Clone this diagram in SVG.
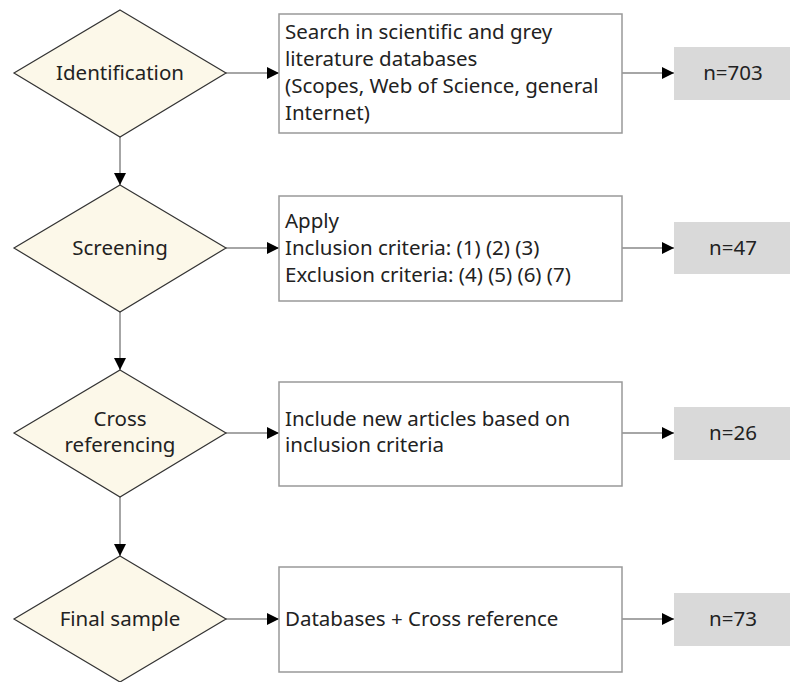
<svg xmlns="http://www.w3.org/2000/svg" width="790" height="682" viewBox="0 0 790 682">
<style>
.d{fill:#fcf8e9;stroke:#333;stroke-width:1.2}
.b{fill:#fff;stroke:#999;stroke-width:1.5}
.n{fill:#d9d9d9;stroke:none}
.t{font-family:"Noto Sans","Open Sans",sans-serif;font-size:20.5px;fill:#222}
.c{text-anchor:middle}
.e{stroke:#888;stroke-width:1.5;fill:none}
</style>
<defs>
<marker id="ah" viewBox="0 0 12 12" refX="12" refY="6" markerWidth="12" markerHeight="12" markerUnits="userSpaceOnUse" orient="auto">
<path d="M0,0 L12,6 L0,12 Z" fill="#000"/>
</marker>
</defs>
<g id="connectors">
<line class="e" x1="120" y1="137" x2="120" y2="185" marker-end="url(#ah)"/>
<line class="e" x1="120" y1="312" x2="120" y2="370" marker-end="url(#ah)"/>
<line class="e" x1="120" y1="497" x2="120" y2="556" marker-end="url(#ah)"/>
<line class="e" x1="226" y1="73" x2="279" y2="73" marker-end="url(#ah)"/>
<line class="e" x1="226" y1="248" x2="279" y2="248" marker-end="url(#ah)"/>
<line class="e" x1="226" y1="433" x2="279" y2="433" marker-end="url(#ah)"/>
<line class="e" x1="226" y1="619" x2="279" y2="619" marker-end="url(#ah)"/>
<line class="e" x1="622" y1="73" x2="674" y2="73" marker-end="url(#ah)"/>
<line class="e" x1="622" y1="248" x2="674" y2="248" marker-end="url(#ah)"/>
<line class="e" x1="622" y1="433" x2="674" y2="433" marker-end="url(#ah)"/>
<line class="e" x1="622" y1="619" x2="674" y2="619" marker-end="url(#ah)"/>
</g>
<g id="identification">
<polygon class="d" points="120,10 226,73 120,137 14,73"/>
<text class="t c" x="120" y="80">Identification</text>
</g>
<g id="screening">
<polygon class="d" points="120,185 226,248 120,312 14,248"/>
<text class="t c" x="120" y="255">Screening</text>
</g>
<g id="crossref">
<polygon class="d" points="120,370 226,433 120,497 14,433"/>
<text class="t c" x="120" y="426">Cross</text>
<text class="t c" x="120" y="452">referencing</text>
</g>
<g id="final">
<polygon class="d" points="120,556 226,619 120,682 14,619"/>
<text class="t c" x="120" y="626">Final sample</text>
</g>
<g id="box1">
<rect class="b" x="279" y="14" width="343" height="119"/>
<text class="t" x="285" y="39">Search in scientific and grey</text>
<text class="t" x="285" y="66">literature databases</text>
<text class="t" x="285" y="93">(Scopes, Web of Science, general</text>
<text class="t" x="285" y="120">Internet)</text>
</g>
<g id="box2">
<rect class="b" x="279" y="196" width="343" height="105"/>
<text class="t" x="285" y="228">Apply</text>
<text class="t" x="285" y="255">Inclusion criteria: (1) (2) (3)</text>
<text class="t" x="285" y="282">Exclusion criteria: (4) (5) (6) (7)</text>
</g>
<g id="box3">
<rect class="b" x="279" y="382" width="343" height="104"/>
<text class="t" x="285" y="426">Include new articles based on</text>
<text class="t" x="285" y="452">inclusion criteria</text>
</g>
<g id="box4">
<rect class="b" x="279" y="567" width="343" height="105"/>
<text class="t" x="285" y="626">Databases + Cross reference</text>
</g>
<g id="n703">
<rect class="n" x="674" y="47" width="118" height="53"/>
<text class="t c" x="733" y="80">n=703</text>
</g>
<g id="n47">
<rect class="n" x="674" y="222" width="118" height="52"/>
<text class="t c" x="733" y="255">n=47</text>
</g>
<g id="n26">
<rect class="n" x="674" y="407" width="118" height="53"/>
<text class="t c" x="733" y="440">n=26</text>
</g>
<g id="n73">
<rect class="n" x="674" y="593" width="118" height="53"/>
<text class="t c" x="733" y="626">n=73</text>
</g>
</svg>
